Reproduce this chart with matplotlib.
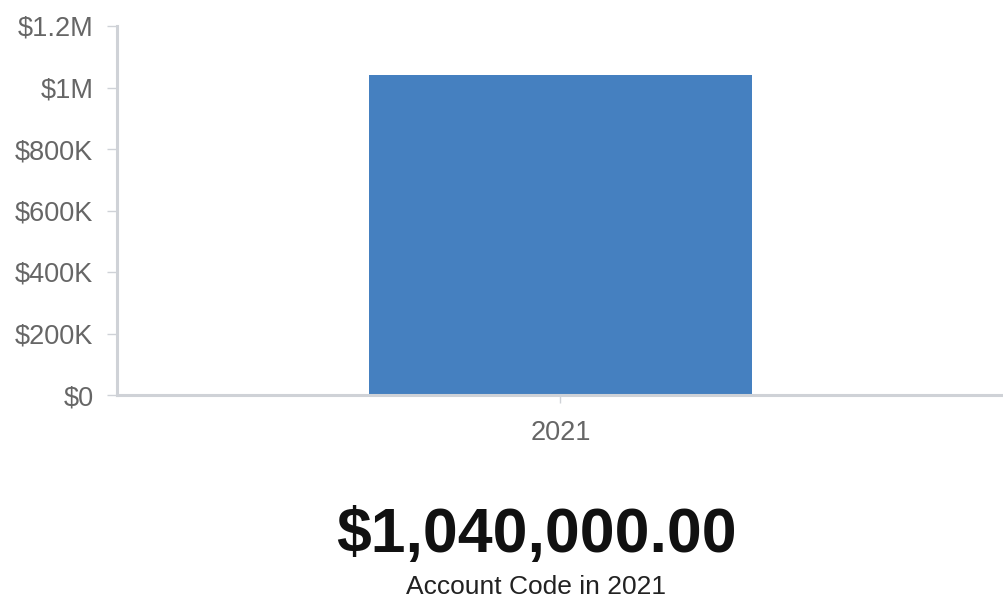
import matplotlib.pyplot as plt
from matplotlib.ticker import FuncFormatter

years = ["2021"]
amounts = [1040000]
y_ticks = [0, 200000, 400000, 600000, 800000, 1000000, 1200000]

plt.rcParams['font.family'] = ['Liberation Sans', 'DejaVu Sans']

axis_col = '#cfd2d7'
label_col = '#666666'


def money(v, pos):
  if v >= 1e6:
    s = '%g' % (v / 1e6)
    return '$' + s + 'M'
  if v >= 1e3:
    return '$%dK' % (v / 1e3)
  return '$0'


fig = plt.figure(figsize=(10.04, 6.11), dpi=100)
ax = fig.add_axes([117/1004, 1 - 395/611, 1 - 117/1004, 369/611])

ax.bar(range(len(years)), amounts, width=0.432, color='#4580c0', zorder=2)
ax.set_xlim(-0.5, 0.5)
ax.set_ylim(0, 1200000)
ax.set_yticks(y_ticks)
ax.yaxis.set_major_formatter(FuncFormatter(money))
ax.set_xticks(range(len(years)))
ax.set_xticklabels(years)

for s in ['top', 'right']:
  ax.spines[s].set_visible(False)
for s in ['left', 'bottom']:
  ax.spines[s].set_color(axis_col)
  ax.spines[s].set_linewidth(2.2)
ax.tick_params(axis='y', length=7, width=1, color=axis_col, pad=10,
               labelsize=19.5, labelcolor=label_col)
ax.tick_params(axis='x', length=6, width=1, color=axis_col, pad=12,
               labelsize=19.5, labelcolor=label_col)

# headline total under the chart
total = sum(amounts)
fig.text(536/1004, 1 - 536/611, '${:,.2f}'.format(total), ha='center', va='center',
         fontsize=45, fontweight='bold', color='#111111')
fig.text(536/1004, 1 - 587/611, 'Account Code in ' + years[0], ha='center', va='center',
         fontsize=19, color='#222222')

fig.savefig('out.png', dpi=100)
